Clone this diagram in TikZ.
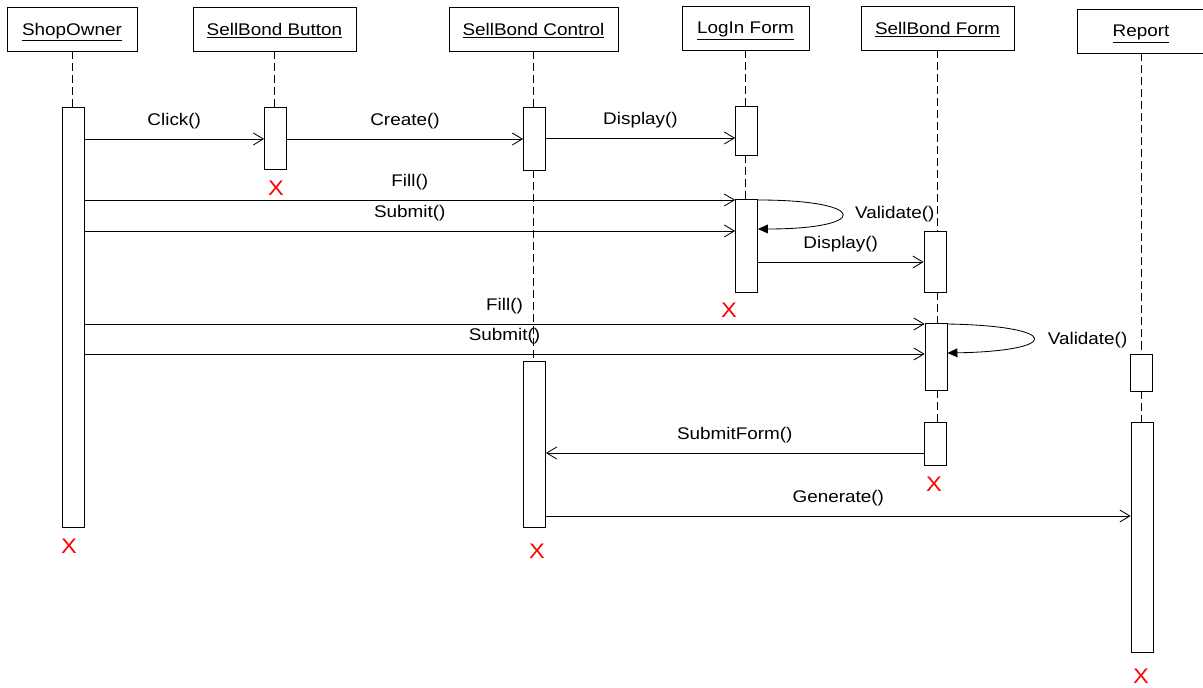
\documentclass[tikz,border=0pt]{standalone}
\usepackage{fontspec}
\setmainfont{Liberation Sans}[FakeStretch=1.12]
\usetikzlibrary{arrows.meta}

\begin{document}
\begin{tikzpicture}[x=0.025cm,y=-0.025cm,line width=0.6pt,
  every node/.style={font=\fontsize{12}{14}\selectfont},
  obj/.style={draw,minimum height=1.1cm,inner sep=0pt,text depth=0pt},
  act/.style={draw,fill=white,minimum width=0.55cm,inner sep=0pt},
  life/.style={dash pattern=on 2mm off 1mm},
  msg/.style={-{Straight Barb[length=2.5mm,width=3mm]}},
  selfmsg/.style={-{Triangle[length=2.5mm,width=2.2mm]}},
  lbl/.style={above=6.7pt,inner sep=0pt},
  kill/.style={text=red,inner sep=0pt,font=\fontsize{15}{17}\selectfont}]
\useasboundingbox (0,0) rectangle (1203,688);

%Objects
\node[obj,minimum width=3.25cm] (so) at (72,29) {\underline{ShopOwner}};
\node[obj,minimum width=4.075cm] (btn) at (274.5,29) {\underline{SellBond Button}};
\node[obj,minimum width=4.225cm] (ctl) at (533.5,29) {\underline{SellBond Control}};
\node[obj,minimum width=3.175cm] (lf) at (745.5,28) {\underline{LogIn Form}};
\node[obj,minimum width=3.825cm] (sf) at (937.5,28) {\underline{SellBond Form}};
\node[obj,minimum width=3.2cm] (rp) at (1141,31) {\underline{Report}};

%Activations
\node[act,minimum height=10.5cm] (soact) at (73,317) {};
\node[act,minimum height=1.55cm] (btnact) at (275.5,138) {};
\node[act,minimum height=1.575cm] (ctlact1) at (534.5,138.5) {};
\node[act,minimum height=4.15cm] (ctlact2) at (534.5,444) {};
\node[act,minimum height=1.225cm] (lfact1) at (746.5,130.5) {};
\node[act,minimum height=2.325cm] (lfact2) at (746.5,245.5) {};
\node[act,minimum height=1.525cm] (sfact1) at (935,261.5) {};
\node[act,minimum height=1.675cm] (sfact2) at (936,356.5) {};
\node[act,minimum height=1.075cm] (sfact3) at (935,443.5) {};
\node[act,minimum height=0.925cm] (rpact1) at (1141.5,372.5) {};
\node[act,minimum height=5.75cm] (rpact2) at (1142,537) {};

%Lifelines
\draw[life] (so.south) -- (so.south |- soact.north);
\draw[life] (btn.south) -- (btn.south |- btnact.north);
\draw[life] (ctl.south) -- (ctl.south |- ctlact1.north);
\draw[life] (ctl.south |- ctlact1.south) -- (ctl.south |- ctlact2.north);
\draw[life] (lf.south) -- (lf.south |- lfact1.north);
\draw[life] (lf.south |- lfact1.south) -- (lf.south |- lfact2.north);
\draw[life] (sf.south) -- (sf.south |- sfact1.north);
\draw[life] (sf.south |- sfact1.south) -- (sf.south |- sfact2.north);
\draw[life] (sf.south |- sfact2.south) -- (sf.south |- sfact3.north);
\draw[life] (rp.south) -- (rp.south |- rpact1.north);
\draw[life] (rp.south |- rpact1.south) -- (rp.south |- rpact2.north);

%Messages
\draw[msg] (soact.east |- 0,139) -- node[lbl] {Click()} (btnact.west |- 0,139);
\draw[msg] (btnact.east |- 0,139) -- node[lbl] {Create()} (ctlact1.west |- 0,139);
\draw[msg] (ctlact1.east |- 0,138) -- node[lbl] {Display()} (lfact1.west |- 0,138);
\draw[msg] (soact.east |- 0,200) -- node[lbl] {Fill()} (lfact2.west |- 0,200);
\draw[msg] (soact.east |- 0,231) -- node[lbl] {Submit()} (lfact2.west |- 0,231);
\draw[selfmsg] (lfact2.east |- 0,200) .. controls (870,200) and (870,229) .. node[right=9pt,inner sep=0pt] {Validate()} (lfact2.east |- 0,229);
\draw[msg] (lfact2.east |- 0,262) -- node[lbl] {Display()} (sfact1.west |- 0,262);
\draw[msg] (soact.east |- 0,324) -- node[lbl] {Fill()} (sfact2.west |- 0,324);
\draw[msg] (soact.east |- 0,354) -- node[lbl] {Submit()} (sfact2.west |- 0,354);
\draw[selfmsg] (sfact2.east |- 0,324) .. controls (1062,326) and (1062,351) .. node[right=10pt,inner sep=0pt,yshift=-1.5pt] {Validate()} (sfact2.east |- 0,353);
\draw[msg] (sfact3.west |- 0,453) -- node[lbl] {SubmitForm()} (ctlact2.east |- 0,453);
\draw[msg] (ctlact2.east |- 0,516) -- node[lbl] {Generate()} (rpact2.west |- 0,516);

%Destruction marks
\node[kill] (soend) at (69,546) {X};
\node[kill] (btnend) at (276,188) {X};
\node[kill] (ctlend) at (537,551) {X};
\node[kill] (lfend) at (729,310) {X};
\node[kill] (sfend) at (934,484) {X};
\node[kill] (rpend) at (1141,676) {X};

\end{tikzpicture}
\end{document}
